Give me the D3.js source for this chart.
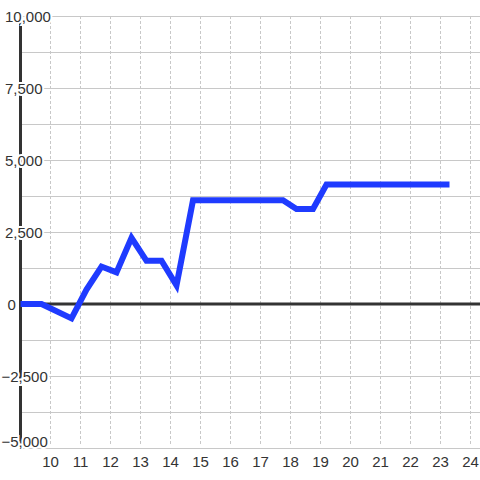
<!DOCTYPE html>
<html>
<head>
<meta charset="utf-8">
<script src="https://cdn.jsdelivr.net/npm/d3@7"></script>
<style>
  body { margin: 0; background: #fff; }
  text { font-family: "Liberation Sans", Arial, sans-serif; font-size: 15px; fill: #333; }
</style>
</head>
<body>
<div id="chart"></div>
<script>
// values
var xValues = [9, 9.7, 10.7, 11.2, 11.7, 12.2, 12.7, 13.2, 13.7, 14.2, 14.75, 17.75, 18.2, 18.75, 19.2, 23.3];
var yValues = [0, 0, -500, 500, 1300, 1100, 2300, 1500, 1500, 650, 3600, 3600, 3300, 3300, 4150, 4150];
var xTicks = [10, 11, 12, 13, 14, 15, 16, 17, 18, 19, 20, 21, 22, 23, 24];
var yGrid = [-5000, -3750, -2500, -1250, 0, 1250, 2500, 3750, 5000, 6250, 7500, 8750, 10000];
var yTicks = [-5000, -2500, 0, 2500, 5000, 7500, 10000];

var width = 480, height = 480;

var x = d3.scaleLinear().domain([9, 24.33]).range([20.5, 480.4]);
var y = d3.scaleLinear().domain([-5000, 10000]).range([448, 16]);

var svg = d3.select("#chart")
    .append("svg")
    .attr("width", width)
    .attr("height", height);

// horizontal grid
svg.append("g")
  .selectAll("line")
  .data(yGrid)
  .enter()
  .append("line")
    .attr("x1", x(9))
    .attr("x2", width)
    .attr("y1", function(d) { return Math.round(y(d)) + 0.5; })
    .attr("y2", function(d) { return Math.round(y(d)) + 0.5; })
    .attr("stroke", "#c8c8c8")
    .attr("stroke-width", 1);

// vertical dashed grid
svg.append("g")
  .selectAll("line")
  .data(xTicks)
  .enter()
  .append("line")
    .attr("x1", function(d) { return Math.floor(x(d)) + 0.5; })
    .attr("x2", function(d) { return Math.floor(x(d)) + 0.5; })
    .attr("y1", y(10000))
    .attr("y2", y(-5000) - 2)
    .attr("stroke", "#c8c8c8")
    .attr("stroke-dasharray", "3,2");

// zero line
svg.append("line")
    .attr("x1", x(9))
    .attr("x2", width)
    .attr("y1", y(0))
    .attr("y2", y(0))
    .attr("stroke", "#333")
    .attr("stroke-width", 3);

// y axis line
svg.append("line")
    .attr("x1", x(9))
    .attr("x2", x(9))
    .attr("y1", y(10000))
    .attr("y2", y(-5000))
    .attr("stroke", "#333")
    .attr("stroke-width", 3);

// data line
var line = d3.line()
    .x(function(d, i) { return x(xValues[i]); })
    .y(function(d) { return y(d); });

svg.append("path")
    .datum(yValues)
    .attr("d", line)
    .attr("fill", "none")
    .attr("stroke", "#1f3bff")
    .attr("stroke-width", 6)
    .attr("stroke-linejoin", "miter");

// y labels with a white halo over the axis
svg.append("g")
  .selectAll("text")
  .data(yTicks)
  .enter()
  .append("text")
    .attr("x", function(d) { return d < 0 ? 1.5 : (d === 0 ? 7.5 : 5); })
    .attr("y", function(d) { return Math.min(y(d) + 5.5, 447); })
    .attr("stroke", "#fff")
    .attr("stroke-width", 4)
    .attr("paint-order", "stroke")
    .text(d3.format(","));

// x labels
svg.append("g")
  .selectAll("text")
  .data(xTicks)
  .enter()
  .append("text")
    .attr("x", function(d) { return x(d); })
    .attr("y", 467)
    .attr("text-anchor", "middle")
    .text(function(d) { return d; });
</script>
</body>
</html>
